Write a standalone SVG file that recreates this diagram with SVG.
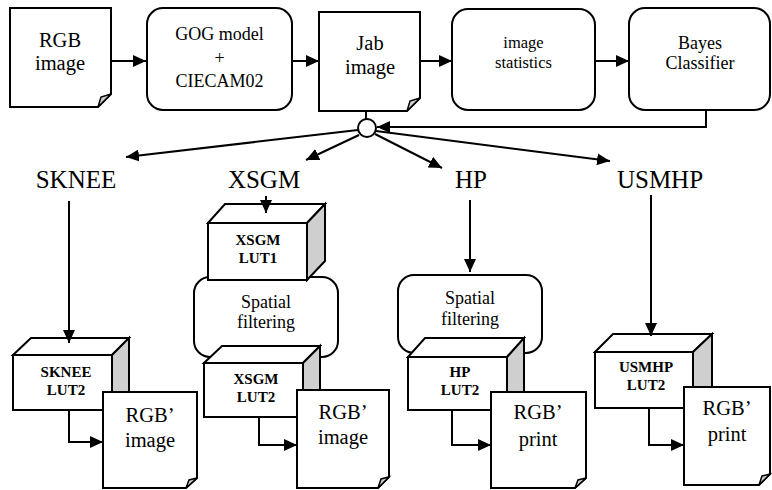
<svg xmlns="http://www.w3.org/2000/svg" width="772" height="490" viewBox="0 0 772 490">
<defs>
<marker id="ah" markerUnits="userSpaceOnUse" markerWidth="14" markerHeight="12" refX="13" refY="6" orient="auto">
<path d="M0,0 L13,6 L0,12 Z" fill="#000"/>
</marker>
</defs>
<style>
.sh{fill:#fff;stroke:#000;stroke-width:2;stroke-linejoin:miter}
.side{fill:#cfcfcf;stroke:#000;stroke-width:2}
.fold{fill:#cfcfcf;stroke:#000;stroke-width:1.5}
text{font-family:'Liberation Serif','DejaVu Serif','Times New Roman',serif;text-anchor:middle;fill:#000}
.big{font-size:25px}
.doc{font-size:20.5px}
.m18{font-size:18px}
.m16{font-size:16.5px}
.lut{font-size:15px;font-weight:bold}
.c{fill:none;stroke:#000;stroke-width:2}
</style>

<g id="rgb-image">
<path class="sh" d="M10,8 H111 V94 L98,107 H10 Z"/>
<path class="fold" d="M98,107 L111,94 L101,97 Z"/>
<text class="doc" x="60" y="47" font-family="Liberation Serif, serif">RGB</text>
<text class="doc" x="60" y="70" font-family="Liberation Serif, serif">image</text>
</g>

<g id="gog-model">
<rect class="sh" x="147" y="8" width="145" height="102" rx="16"/>
<text class="m18" x="219.5" y="40" font-family="Liberation Serif, serif">GOG model</text>
<text class="m18" x="219.5" y="63.5" font-family="Liberation Serif, serif">+</text>
<text class="m18" x="219.5" y="87" font-family="Liberation Serif, serif">CIECAM02</text>
</g>

<g id="jab-image">
<path class="sh" d="M319,12 H420 V98 L407,111 H319 Z"/>
<path class="fold" d="M407,111 L420,98 L410,101 Z"/>
<text class="doc" x="370" y="50" font-family="Liberation Serif, serif">Jab</text>
<text class="doc" x="370" y="74" font-family="Liberation Serif, serif">image</text>
</g>

<g id="image-statistics">
<rect class="sh" x="452" y="9" width="143" height="101" rx="16"/>
<text class="m16" x="523.5" y="48" font-family="Liberation Serif, serif">image</text>
<text class="m16" x="523.5" y="68" font-family="Liberation Serif, serif">statistics</text>
</g>

<g id="bayes-classifier">
<rect class="sh" x="629" y="8" width="141" height="102" rx="16"/>
<text class="m18" x="700" y="49" font-family="Liberation Serif, serif">Bayes</text>
<text class="m18" x="700" y="69" font-family="Liberation Serif, serif">Classifier</text>
</g>

<g id="junction">
<circle class="sh" cx="367" cy="128" r="9"/>
</g>

<g id="label-sknee"><text class="big" x="76" y="188" font-family="Liberation Serif, serif">SKNEE</text></g>
<g id="label-xsgm"><text class="big" x="264" y="188" font-family="Liberation Serif, serif">XSGM</text></g>
<g id="label-hp"><text class="big" x="471" y="188" font-family="Liberation Serif, serif">HP</text></g>
<g id="label-usmhp"><text class="big" x="660" y="188" font-family="Liberation Serif, serif">USMHP</text></g>

<g id="xsgm-spatial">
<rect class="sh" x="194" y="277" width="144" height="80" rx="16"/>
<text class="m18" x="266" y="308" font-family="Liberation Serif, serif">Spatial</text>
<text class="m18" x="266" y="328" font-family="Liberation Serif, serif">filtering</text>
</g>

<g id="hp-spatial">
<rect class="sh" x="398" y="275" width="144" height="78" rx="16"/>
<text class="m18" x="470" y="304" font-family="Liberation Serif, serif">Spatial</text>
<text class="m18" x="470" y="325" font-family="Liberation Serif, serif">filtering</text>
</g>

<g id="xsgm-lut1">
<path class="sh" d="M208,223 L225,204 H325 L307,223 Z"/>
<path class="side" d="M307,223 L325,204 V261 L307,280 Z"/>
<rect class="sh" x="208" y="223" width="99" height="57"/>
<text class="lut" x="258" y="245" font-family="Liberation Serif, serif">XSGM</text>
<text class="lut" x="258" y="263" font-family="Liberation Serif, serif">LUT1</text>
</g>

<g id="sknee-lut2">
<path class="sh" d="M13,355 L31,338 H129 L112,355 Z"/>
<path class="side" d="M112,355 L129,338 V393 L112,410 Z"/>
<rect class="sh" x="13" y="355" width="99" height="55"/>
<text class="lut" x="66" y="377" font-family="Liberation Serif, serif">SKNEE</text>
<text class="lut" x="66" y="395" font-family="Liberation Serif, serif">LUT2</text>
</g>

<g id="xsgm-lut2">
<path class="sh" d="M204,363 L222,346 H320 L303,363 Z"/>
<path class="side" d="M303,363 L320,346 V400 L303,417 Z"/>
<rect class="sh" x="204" y="363" width="99" height="54"/>
<text class="lut" x="256" y="384" font-family="Liberation Serif, serif">XSGM</text>
<text class="lut" x="256" y="402" font-family="Liberation Serif, serif">LUT2</text>
</g>

<g id="hp-lut2">
<path class="sh" d="M408,357 L425,338 H524 L507,357 Z"/>
<path class="side" d="M507,357 L524,338 V391 L507,410 Z"/>
<rect class="sh" x="408" y="357" width="99" height="53"/>
<text class="lut" x="460" y="377" font-family="Liberation Serif, serif">HP</text>
<text class="lut" x="460" y="395" font-family="Liberation Serif, serif">LUT2</text>
</g>

<g id="usmhp-lut2">
<path class="sh" d="M595,352 L613,334 H712 L693,352 Z"/>
<path class="side" d="M693,352 L712,334 V390 L693,408 Z"/>
<rect class="sh" x="595" y="352" width="98" height="56"/>
<text class="lut" x="646" y="372" font-family="Liberation Serif, serif">USMHP</text>
<text class="lut" x="646" y="390" font-family="Liberation Serif, serif">LUT2</text>
</g>

<g id="sknee-rgb-image">
<path class="sh" d="M103,392 H197 V478 L186,488 H103 Z"/>
<path class="fold" d="M186,488 L197,478 L189,480 Z"/>
<text class="doc" x="150" y="422" font-family="Liberation Serif, serif">RGB’</text>
<text class="doc" x="150" y="447" font-family="Liberation Serif, serif">image</text>
</g>

<g id="xsgm-rgb-image">
<path class="sh" d="M297,390 H389 V477 L378,488 H297 Z"/>
<path class="fold" d="M378,488 L389,477 L381,479 Z"/>
<text class="doc" x="343" y="419" font-family="Liberation Serif, serif">RGB’</text>
<text class="doc" x="343" y="444" font-family="Liberation Serif, serif">image</text>
</g>

<g id="hp-rgb-print">
<path class="sh" d="M491,392 H586 V478 L575,488 H491 Z"/>
<path class="fold" d="M575,488 L586,478 L578,480 Z"/>
<text class="doc" x="538" y="419" font-family="Liberation Serif, serif">RGB’</text>
<text class="doc" x="538" y="446" font-family="Liberation Serif, serif">print</text>
</g>

<g id="usmhp-rgb-print">
<path class="sh" d="M684,387 H770 V474 L759,485 H684 Z"/>
<path class="fold" d="M759,485 L770,474 L762,476 Z"/>
<text class="doc" x="727" y="415" font-family="Liberation Serif, serif">RGB’</text>
<text class="doc" x="727" y="441" font-family="Liberation Serif, serif">print</text>
</g>

<g id="connectors">
<line class="c" x1="111" y1="61" x2="146" y2="61" marker-end="url(#ah)"/>
<line class="c" x1="292" y1="61" x2="319" y2="61" marker-end="url(#ah)"/>
<line class="c" x1="420" y1="61" x2="452" y2="61" marker-end="url(#ah)"/>
<line class="c" x1="595" y1="61" x2="629" y2="61" marker-end="url(#ah)"/>
<path class="c" d="M706,110 V127 H377" marker-end="url(#ah)"/>
<line class="c" x1="366" y1="111" x2="366" y2="119"/>
<line class="c" x1="358" y1="130" x2="126" y2="157" marker-end="url(#ah)"/>
<line class="c" x1="359" y1="135" x2="306" y2="160" marker-end="url(#ah)"/>
<line class="c" x1="375" y1="134" x2="442" y2="168" marker-end="url(#ah)"/>
<line class="c" x1="376" y1="131" x2="610" y2="161" marker-end="url(#ah)"/>
<line class="c" x1="69" y1="201" x2="69" y2="343" marker-end="url(#ah)"/>
<line class="c" x1="266" y1="196" x2="266" y2="213" marker-end="url(#ah)"/>
<line class="c" x1="470" y1="200" x2="470" y2="272" marker-end="url(#ah)"/>
<line class="c" x1="651" y1="195" x2="651" y2="336" marker-end="url(#ah)"/>
<path class="c" d="M69,410 V442 H103" marker-end="url(#ah)"/>
<path class="c" d="M259,417 V445 H297" marker-end="url(#ah)"/>
<path class="c" d="M452,410 V445 H491" marker-end="url(#ah)"/>
<path class="c" d="M649,408 V445 H684" marker-end="url(#ah)"/>
</g>
</svg>
